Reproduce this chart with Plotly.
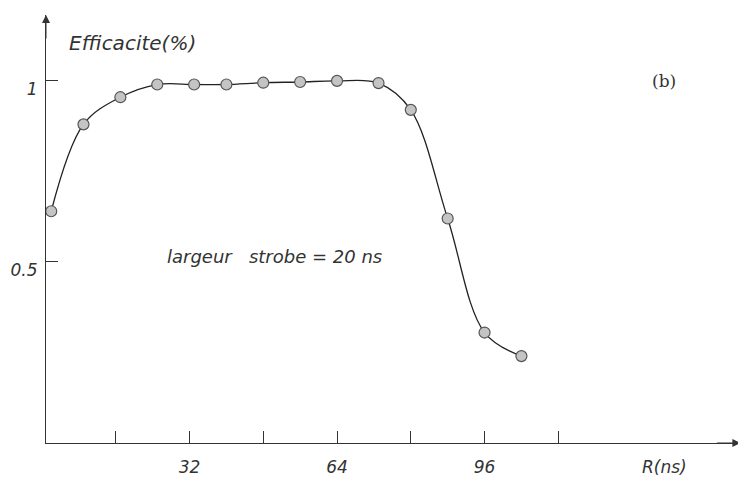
import plotly.graph_objects as go

# values
r_ns = [2, 9, 17, 25, 33, 40, 48, 56, 64, 73, 80, 88, 96, 104]
efficacite = [0.64, 0.88, 0.955, 0.99, 0.99, 0.99, 0.995, 0.997, 1.0, 0.994, 0.92, 0.62, 0.305, 0.24]

x_tickvals = [16, 32, 48, 64, 80, 96, 112]
x_ticktext = ['', '32', '', '64', '', '96', '']
y_tickvals = [0.5, 1]
y_ticktext = ['0.5', '1']

ink = '#333333'
font_it = dict(family='DejaVu Sans', size=17, color=ink, style='italic')

fig = go.Figure()
fig.add_trace(go.Scatter(
    x=r_ns, y=efficacite,
    mode='lines+markers',
    line=dict(color='#222222', width=1.3, shape='spline', smoothing=1.0),
    marker=dict(size=11, color='#c4c4c4', line=dict(color='#555555', width=1.2)),
    showlegend=False,
))

x_range = [0.87, 152.5]
y_range = [0, 1.182]

fig.update_xaxes(
    range=x_range, showgrid=False, zeroline=False, automargin=False,
    showline=True, linecolor=ink, linewidth=1,
    ticks='inside', ticklen=12, tickcolor=ink, tickwidth=1,
    tickvals=x_tickvals, ticktext=x_ticktext,
    tickfont=font_it, ticklabelstandoff=9,
)
fig.update_yaxes(
    range=y_range, showgrid=False, zeroline=False, automargin=False,
    showline=True, linecolor=ink, linewidth=1,
    ticks='inside', ticklen=12, tickcolor=ink, tickwidth=1,
    tickvals=y_tickvals, ticktext=y_ticktext,
    tickfont=font_it, ticklabelshift=8, ticklabelstandoff=4,
)

# arrowheads at the end of both axes
fig.add_annotation(x=x_range[1] - 1.0, y=0, ax=-25, ay=0, axref='pixel', ayref='pixel',
                   text='', showarrow=True, arrowhead=2, arrowsize=1.6,
                   arrowwidth=1, arrowcolor=ink)
fig.add_annotation(x=x_range[0], y=y_range[1], ax=0, ay=25, axref='pixel', ayref='pixel',
                   text='', showarrow=True, arrowhead=2, arrowsize=1.6,
                   arrowwidth=1, arrowcolor=ink)

fig.add_annotation(x=5.5, y=1.105, text='Efficacite(%)', showarrow=False,
                   xanchor='left', yanchor='middle',
                   font=dict(family='DejaVu Sans', size=20, color=ink, style='italic'))
fig.add_annotation(x=135, y=0, text='R(ns)', showarrow=False,
                   xanchor='center', yanchor='top', yshift=-12, font=font_it)
fig.add_annotation(x=26.7, y=0.514, text='largeur   strobe = 20 ns', showarrow=False,
                   xanchor='left', yanchor='middle',
                   font=dict(family='DejaVu Sans', size=18, color=ink, style='italic'))
fig.add_annotation(x=135, y=1.0, text='(b)', showarrow=False,
                   xanchor='center', yanchor='middle',
                   font=dict(family='DejaVu Serif', size=17, color=ink))

# the page body has an 8px margin, so the margins are shifted to compensate
fig.update_layout(
    width=746, height=482,
    margin=dict(l=38, r=9, t=7, b=47),
    plot_bgcolor='white', paper_bgcolor='white',
)

fig.write_html("out.html")
